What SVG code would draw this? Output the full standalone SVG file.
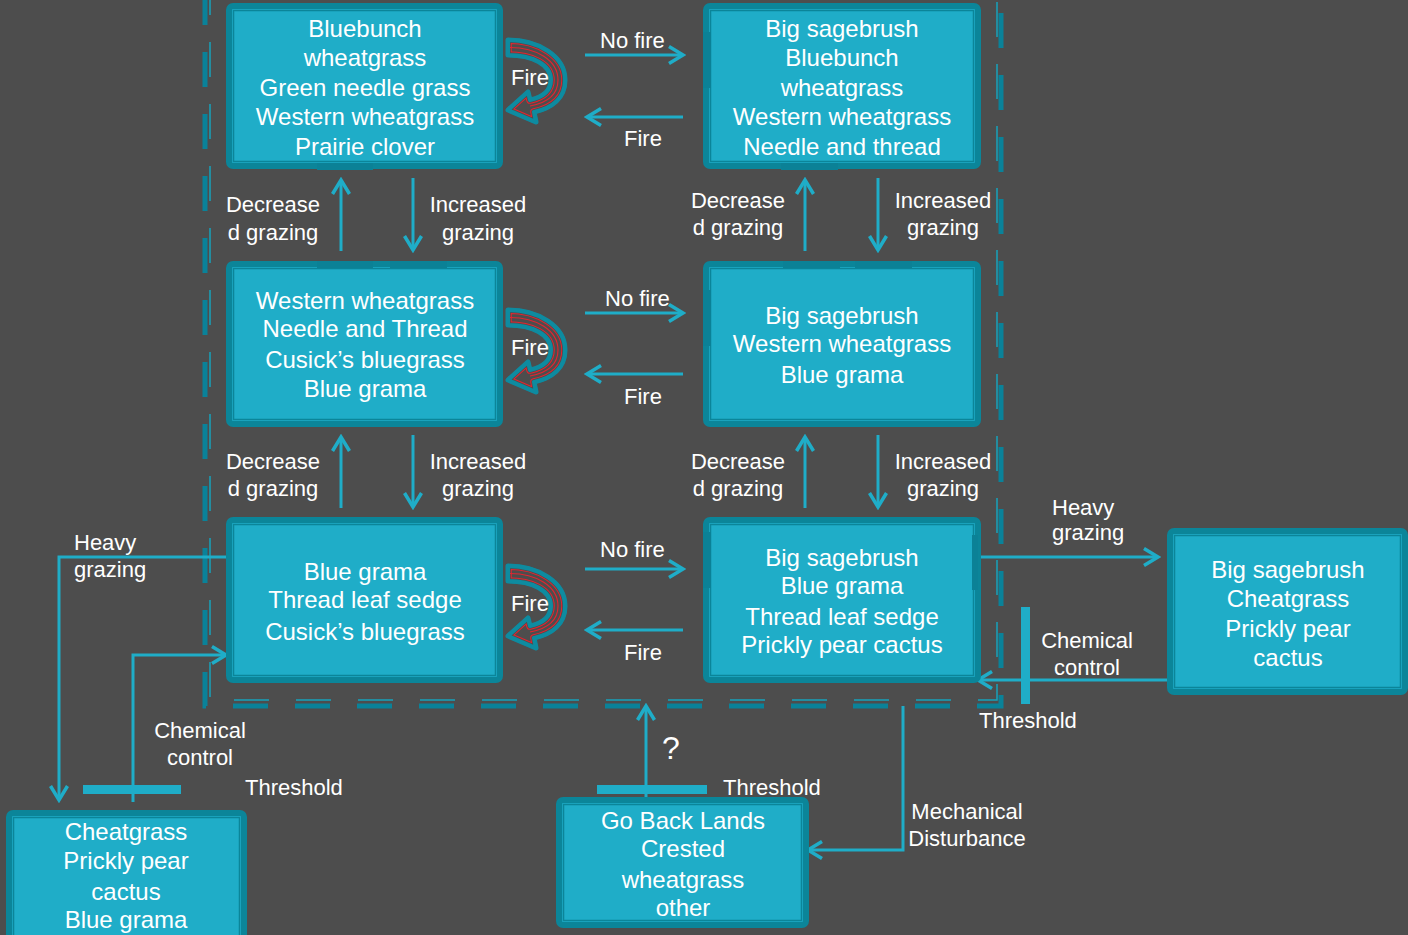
<svg xmlns="http://www.w3.org/2000/svg" xmlns:xlink="http://www.w3.org/1999/xlink" width="1408" height="935" viewBox="0 0 1408 935">
<style>
.bg{fill:#4d4d4d}
.box{fill:#1fadc8;stroke:#0b8599;stroke-width:6}
.inner{fill:none;stroke:#0b8599;stroke-width:1.5}
.tab{fill:#0b8196}
.t{font-family:"Liberation Sans",Arial,sans-serif;font-size:24px;fill:#ffffff;text-anchor:middle}
.l{font-family:"Liberation Sans",Arial,sans-serif;font-size:22px;fill:#ffffff}
.m{text-anchor:middle}
.c{fill:none;stroke:#1fadc8;stroke-width:3}
.bar{fill:#1fadc8}
.dk{fill:none;stroke:#0a8299;stroke-width:5;stroke-dasharray:35 27}
.dn{fill:none;stroke:#16a2bc;stroke-width:1.5;stroke-dasharray:35 27}
.fo{fill:#4d4d4d;stroke:#0e8ba0;stroke-width:5;stroke-linejoin:round}
.fr{fill:none;stroke:#e32530;stroke-width:7.5;stroke-linejoin:round}
.fg{fill:none;stroke:#4d4d4d;stroke-width:5.5;stroke-linejoin:round}
.fc2{fill:none;stroke:#e32530;stroke-width:1.1}
</style>
<defs>
<marker id="ah" markerUnits="userSpaceOnUse" markerWidth="22" markerHeight="22" viewBox="0 0 22 22" refX="19" refY="11" orient="auto">
<path d="M5,2.5 L19,11 L5,19.5" fill="none" stroke="#1fadc8" stroke-width="3.5" stroke-linejoin="miter"/>
</marker>
<path id="fshape" d="M0,0 C30,0 57,16 57,40 C57,58 44,68 26,72 L28,82 L0,70 L20,52 L22,60 C36,57 43,50 43,40 C43,24 24,15 0,15 Z"/>
<path id="fmid" d="M2,7.5 C28,7.5 50,20 50,40 C50,56 38,63 22,66"/>
<clipPath id="fclip"><use xlink:href="#fshape"/></clipPath>
</defs>
<rect class="bg" x="0" y="0" width="1408" height="935"/>

<g id="enclosure">
<path class="dk" d="M205,-10 V706 H1001 V-10"/>
<path class="dn" d="M210,-20 V700 H997 V-20"/>
</g>

<g id="connectors">
<path class="c" marker-end="url(#ah)" d="M585,55 H683"/>
<path class="c" marker-end="url(#ah)" d="M683,117 H587"/>
<path class="c" marker-end="url(#ah)" d="M585,313 H683"/>
<path class="c" marker-end="url(#ah)" d="M683,374 H587"/>
<path class="c" marker-end="url(#ah)" d="M585,569 H683"/>
<path class="c" marker-end="url(#ah)" d="M683,630 H587"/>
<path class="c" marker-end="url(#ah)" d="M341,251 V180"/>
<path class="c" marker-end="url(#ah)" d="M413,178 V250"/>
<path class="c" marker-end="url(#ah)" d="M805,251 V180"/>
<path class="c" marker-end="url(#ah)" d="M878,178 V250"/>
<path class="c" marker-end="url(#ah)" d="M341,508 V437"/>
<path class="c" marker-end="url(#ah)" d="M413,435 V507"/>
<path class="c" marker-end="url(#ah)" d="M805,508 V437"/>
<path class="c" marker-end="url(#ah)" d="M878,435 V507"/>
<path class="c" marker-end="url(#ah)" d="M977,557 H1158"/>
<path class="c" marker-end="url(#ah)" d="M1168,680 H978"/>
<path class="c" marker-end="url(#ah)" d="M227,557 H59 V800"/>
<path class="c" marker-end="url(#ah)" d="M133,802 V655 H226"/>
<path class="c" marker-end="url(#ah)" d="M646,797 V706"/>
<path class="c" marker-end="url(#ah)" d="M903,706 V850 H808"/>
<rect class="bar" x="1021" y="607" width="9" height="97"/>
<rect class="bar" x="83" y="785" width="98" height="9"/>
<rect class="bar" x="597" y="785" width="110" height="9"/>
<g id="fire1" transform="translate(508,40)">
<use xlink:href="#fshape" class="fo"/>
<g clip-path="url(#fclip)"><use xlink:href="#fshape" class="fr"/><use xlink:href="#fshape" class="fg"/></g>
<use xlink:href="#fmid" class="fc2"/>
<use xlink:href="#fshape" fill="none" stroke="#0e8ba0" stroke-width="4" stroke-linejoin="round"/>
</g>
<g id="fire2" transform="translate(508,310)">
<use xlink:href="#fshape" class="fo"/>
<g clip-path="url(#fclip)"><use xlink:href="#fshape" class="fr"/><use xlink:href="#fshape" class="fg"/></g>
<use xlink:href="#fmid" class="fc2"/>
<use xlink:href="#fshape" fill="none" stroke="#0e8ba0" stroke-width="4" stroke-linejoin="round"/>
</g>
<g id="fire3" transform="translate(508,566)">
<use xlink:href="#fshape" class="fo"/>
<g clip-path="url(#fclip)"><use xlink:href="#fshape" class="fr"/><use xlink:href="#fshape" class="fg"/></g>
<use xlink:href="#fmid" class="fc2"/>
<use xlink:href="#fshape" fill="none" stroke="#0e8ba0" stroke-width="4" stroke-linejoin="round"/>
</g>
</g>

<g id="labels">
<text class="l" x="600" y="48">No fire</text>
<text class="l" x="624" y="146">Fire</text>
<text class="l" x="511" y="85">Fire</text>
<text class="l" x="605" y="306">No fire</text>
<text class="l" x="624" y="404">Fire</text>
<text class="l" x="511" y="355">Fire</text>
<text class="l" x="600" y="557">No fire</text>
<text class="l" x="624" y="660">Fire</text>
<text class="l" x="511" y="611">Fire</text>
<text class="l m" x="273" y="212">Decrease</text>
<text class="l m" x="273" y="240">d grazing</text>
<text class="l m" x="478" y="212">Increased</text>
<text class="l m" x="478" y="240">grazing</text>
<text class="l m" x="738" y="208">Decrease</text>
<text class="l m" x="738" y="235">d grazing</text>
<text class="l m" x="943" y="208">Increased</text>
<text class="l m" x="943" y="235">grazing</text>
<text class="l m" x="273" y="469">Decrease</text>
<text class="l m" x="273" y="496">d grazing</text>
<text class="l m" x="478" y="469">Increased</text>
<text class="l m" x="478" y="496">grazing</text>
<text class="l m" x="738" y="469">Decrease</text>
<text class="l m" x="738" y="496">d grazing</text>
<text class="l m" x="943" y="469">Increased</text>
<text class="l m" x="943" y="496">grazing</text>
<text class="l" x="74" y="550">Heavy</text>
<text class="l" x="74" y="577">grazing</text>
<text class="l" x="1052" y="515">Heavy</text>
<text class="l" x="1052" y="540">grazing</text>
<text class="l m" x="1087" y="648">Chemical</text>
<text class="l m" x="1087" y="675">control</text>
<text class="l" x="979" y="728">Threshold</text>
<text class="l m" x="200" y="738">Chemical</text>
<text class="l m" x="200" y="765">control</text>
<text class="l" x="245" y="795">Threshold</text>
<text class="l" x="723" y="795">Threshold</text>
<text class="l m" x="671" y="759" style="font-size:32px">?</text>
<text class="l m" x="967" y="819">Mechanical</text>
<text class="l m" x="967" y="846">Disturbance</text>
</g>

<g id="box1">
<rect class="box" x="229" y="6" width="271" height="160" rx="4"/>
<rect class="inner" x="233.5" y="10.5" width="262" height="151"/>
<rect class="tab" x="317" y="163" width="56" height="7"/>
<text class="t" x="365" y="37">Bluebunch</text>
<text class="t" x="365" y="66">wheatgrass</text>
<text class="t" x="365" y="96">Green needle grass</text>
<text class="t" x="365" y="125">Western wheatgrass</text>
<text class="t" x="365" y="155">Prairie clover</text>
</g>
<g id="box2">
<rect class="box" x="706" y="6" width="272" height="160" rx="4"/>
<rect class="inner" x="710.5" y="10.5" width="263" height="151"/>
<rect class="tab" x="781" y="163" width="57" height="7"/>
<rect class="tab" x="703" y="32" width="8" height="56"/>
<text class="t" x="842" y="37">Big sagebrush</text>
<text class="t" x="842" y="66">Bluebunch</text>
<text class="t" x="842" y="96">wheatgrass</text>
<text class="t" x="842" y="125">Western wheatgrass</text>
<text class="t" x="842" y="155">Needle and thread</text>
</g>
<g id="box3">
<rect class="box" x="229" y="264" width="271" height="160" rx="4"/>
<rect class="inner" x="233.5" y="268.5" width="262" height="151"/>
<rect class="tab" x="317" y="261" width="56" height="7"/>
<rect class="tab" x="390" y="261" width="57" height="7"/>
<text class="t" x="365" y="309">Western wheatgrass</text>
<text class="t" x="365" y="337">Needle and Thread</text>
<text class="t" x="365" y="368">Cusick’s bluegrass</text>
<text class="t" x="365" y="397">Blue grama</text>
</g>
<g id="box4">
<rect class="box" x="706" y="264" width="272" height="160" rx="4"/>
<rect class="inner" x="710.5" y="268.5" width="263" height="151"/>
<rect class="tab" x="703" y="290" width="8" height="56"/>
<rect class="tab" x="783" y="261" width="57" height="7"/>
<rect class="tab" x="855" y="261" width="57" height="7"/>
<text class="t" x="842" y="324">Big sagebrush</text>
<text class="t" x="842" y="352">Western wheatgrass</text>
<text class="t" x="842" y="383">Blue grama</text>
</g>
<g id="box5">
<rect class="box" x="229" y="520" width="271" height="160" rx="4"/>
<rect class="inner" x="233.5" y="524.5" width="262" height="151"/>
<text class="t" x="365" y="580">Blue grama</text>
<text class="t" x="365" y="608">Thread leaf sedge</text>
<text class="t" x="365" y="640">Cusick’s bluegrass</text>
</g>
<g id="box6">
<rect class="box" x="706" y="520" width="272" height="160" rx="4"/>
<rect class="inner" x="710.5" y="524.5" width="263" height="151"/>
<rect class="tab" x="703" y="532" width="8" height="56"/>
<rect class="tab" x="972" y="535" width="6" height="55"/>
<text class="t" x="842" y="566">Big sagebrush</text>
<text class="t" x="842" y="594">Blue grama</text>
<text class="t" x="842" y="625">Thread leaf sedge</text>
<text class="t" x="842" y="653">Prickly pear cactus</text>
</g>
<g id="box7">
<rect class="box" x="1170" y="531" width="235" height="161" rx="4"/>
<rect class="inner" x="1174.5" y="535.5" width="226" height="152"/>
<text class="t" x="1288" y="578">Big sagebrush</text>
<text class="t" x="1288" y="607">Cheatgrass</text>
<text class="t" x="1288" y="637">Prickly pear</text>
<text class="t" x="1288" y="666">cactus</text>
</g>
<g id="box8">
<rect class="box" x="9" y="813" width="235" height="140" rx="4"/>
<rect class="inner" x="13.5" y="817.5" width="226" height="131"/>
<text class="t" x="126" y="840">Cheatgrass</text>
<text class="t" x="126" y="869">Prickly pear</text>
<text class="t" x="126" y="900">cactus</text>
<text class="t" x="126" y="928">Blue grama</text>
</g>
<g id="box9">
<rect class="box" x="559" y="800" width="247" height="125" rx="4"/>
<rect class="inner" x="563.5" y="804.5" width="238" height="116"/>
<text class="t" x="683" y="829">Go Back Lands</text>
<text class="t" x="683" y="857">Crested</text>
<text class="t" x="683" y="888">wheatgrass</text>
<text class="t" x="683" y="916">other</text>
</g>
</svg>
